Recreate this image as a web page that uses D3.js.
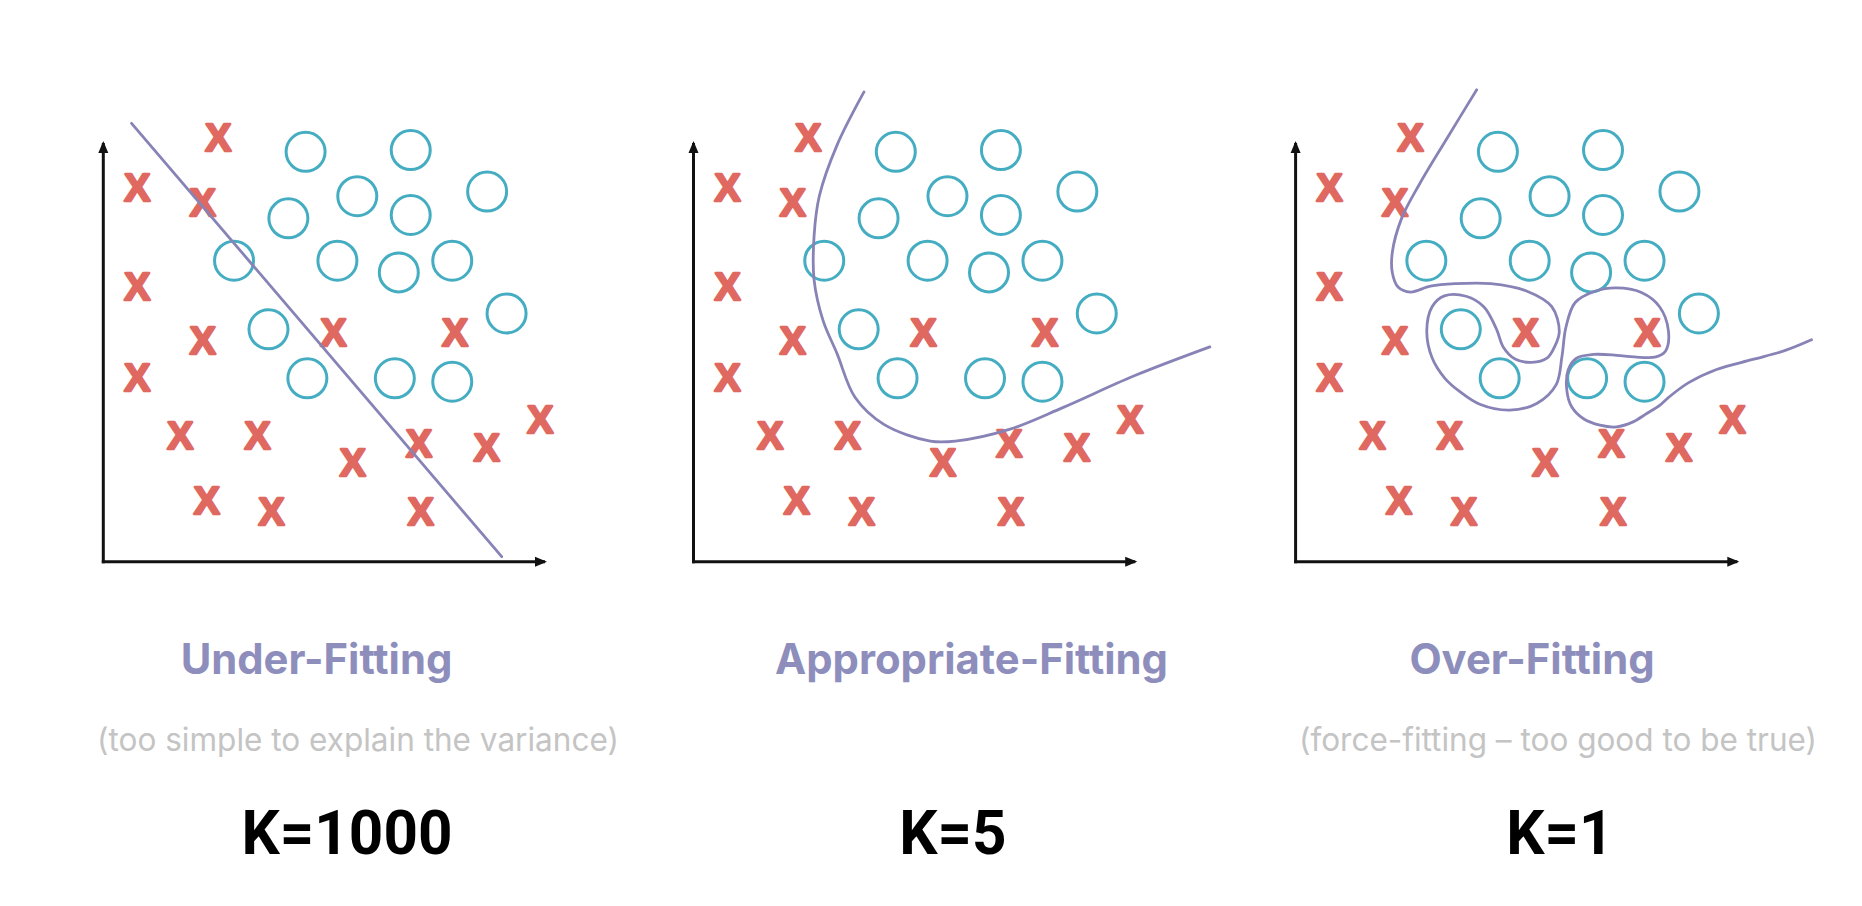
<!DOCTYPE html>
<html><head><meta charset="utf-8">
<script src="https://cdn.jsdelivr.net/npm/d3@7"></script>
<style>html,body{margin:0;padding:0;background:#fff;} svg{display:block;}</style>
</head><body>
<svg id="chart" width="1862" height="906"></svg>
<script>
// ---------- data (shared coordinate system 0..100 on both axes) ----------
const crossX = [26.0, 7.7, 22.5, 7.7, 22.5, 52.1, 79.6, 7.7, 17.4, 34.9, 56.5, 71.5, 86.8, 98.9, 23.4, 38.1, 71.9];
const crossY = [101.5, 89.4, 86.0, 65.8, 53.0, 54.9, 54.9, 44.2, 30.3, 30.3, 23.9, 28.3, 27.5, 34.0, 14.7, 12.2, 12.2];
const circleX = [45.8, 69.6, 57.5, 86.9, 41.9, 69.6, 29.6, 53.0, 66.9, 79.0, 91.3, 37.4, 46.2, 66.0, 79.0];
const circleY = [97.9, 98.3, 87.3, 88.4, 82.0, 82.8, 71.9, 71.9, 69.1, 71.9, 59.3, 55.5, 43.8, 43.8, 43.0];

const underFitX = [6.4, 90.2];
const underFitY = [104.7, 1.2];
const appropriateX = [38.6, 32.5, 28.5, 27.3, 27.3, 29.3, 32.5, 36.6, 43.1, 53.6, 59.3, 71.5, 83.6, 99.8, 116.9];
const appropriateY = [112.2, 99.5, 87.4, 77.8, 67.3, 57.7, 49.7, 39.2, 32.8, 28.8, 28.8, 31.6, 36.8, 44.4, 51.3];
const overFitX = [41.0, 34.5, 28.0, 24.0, 21.9, 21.9, 23.2, 26.0, 30.5, 36.1, 44.2, 52.4, 58.0, 59.7, 58.7, 56.9, 53.5, 49.7, 47.0, 45.5, 42.6, 38.6, 33.7, 30.9, 29.7, 30.9, 33.8, 37.2, 41.7, 48.5, 54.6, 59.0, 60.3, 61.2, 63.3, 67.8, 72.6, 78.3, 82.4, 84.4, 83.8, 81.6, 76.7, 72.7, 67.4, 63.6, 61.7, 61.4, 62.5, 65.1, 68.9, 72.7, 76.4, 79.5, 82.5, 84.4, 88.9, 95.3, 103.5, 110.7, 116.8];
const overFitY = [112.7, 101.5, 90.1, 82.0, 73.9, 69.0, 65.6, 64.4, 65.8, 66.4, 66.4, 64.6, 60.9, 55.0, 51.5, 48.6, 47.6, 48.4, 51.3, 55.5, 60.9, 63.4, 63.5, 60.9, 55.2, 48.7, 43.8, 40.6, 37.6, 36.2, 37.8, 42.3, 49.0, 56.0, 61.9, 64.6, 65.4, 64.3, 60.9, 55.2, 50.4, 48.9, 48.9, 49.3, 49.5, 48.6, 45.8, 41.0, 37.0, 34.2, 32.6, 32.2, 33.4, 35.4, 37.4, 39.2, 42.7, 45.9, 48.3, 50.4, 53.0];

const titles = ["Under-Fitting", "Appropriate-Fitting", "Over-Fitting"];
const subtitles = ["(too simple to explain the variance)", "", "(force-fitting \u2013 too good to be true)"];
const kLabels = ["K=1000", "K=5", "K=1"];

// ---------- layout ----------
const panelLeft = [103.3, 693.5, 1295.6];
const panelWidth = 441.7;
const yBottom = 561.7, yTop = 143;
const titleCX = [316.5, 971.5, 1532], titleY = 674;
const subCX = [358, 0, 1558], subY = 751;
const kCX = [347, 953, 1560], kY = 854;

const boundaries = [
  {xs: underFitX, ys: underFitY, curve: d3.curveLinear},
  {xs: appropriateX, ys: appropriateY, curve: d3.curveCatmullRom.alpha(0.5)},
  {xs: overFitX, ys: overFitY, curve: d3.curveCatmullRom.alpha(0.5)}
];

const svg = d3.select("#chart");
const defs = svg.append("defs");
defs.append("marker").attr("id", "arrow")
  .attr("viewBox", "0 -6 12 12").attr("markerUnits", "userSpaceOnUse")
  .attr("markerWidth", 12).attr("markerHeight", 12)
  .attr("refX", 10).attr("refY", 0).attr("orient", "auto")
  .append("path").attr("d", "M0,-5L12,0L0,5Z").attr("fill", "#111");

const crosses = crossX.map((x, i) => ({x, y: crossY[i]}));
const circles = circleX.map((x, i) => ({x, y: circleY[i]}));

panelLeft.forEach((left, p) => {
  const x = d3.scaleLinear().domain([0, 100]).range([left, left + panelWidth]);
  const y = d3.scaleLinear().domain([0, 100]).range([yBottom, yTop]);
  const g = svg.append("g");

  // axes
  g.append("line").attr("x1", x(0) - 1.5).attr("y1", y(0)).attr("x2", x(100)).attr("y2", y(0))
    .attr("stroke", "#111").attr("stroke-width", 3).attr("marker-end", "url(#arrow)");
  g.append("line").attr("x1", x(0)).attr("y1", y(0) + 1.5).attr("x2", x(0)).attr("y2", y(100))
    .attr("stroke", "#111").attr("stroke-width", 3).attr("marker-end", "url(#arrow)");

  // circles
  g.selectAll("circle.o").data(circles).join("circle").attr("class", "o")
    .attr("cx", d => x(d.x)).attr("cy", d => y(d.y)).attr("r", 19.5)
    .attr("fill", "none").attr("stroke", "#45adc2").attr("stroke-width", 3);

  // crosses
  g.selectAll("text.x").data(crosses).join("text").attr("class", "x")
    .attr("x", d => x(d.x)).attr("y", d => y(d.y)).attr("dy", "0.36em")
    .attr("text-anchor", "middle")
    .style("font-family", "'Liberation Sans', Arial, sans-serif").style("font-weight", 700)
    .style("font-size", "39px").attr("fill", "#df6861")
    .attr("stroke", "#df6861").attr("stroke-width", 2.4).attr("stroke-linejoin", "round")
    .text("X");

  // boundary
  const b = boundaries[p];
  const pts = b.xs.map((v, i) => [v, b.ys[i]]);
  const line = d3.line().x(d => x(d[0])).y(d => y(d[1])).curve(b.curve);
  g.append("path").attr("d", line(pts)).attr("fill", "none")
    .attr("stroke", "#8783b6").attr("stroke-width", 2.8).attr("stroke-linecap", "round");
});

function fitSize(sel, refIndex, targetWidth) {
  sel.style("font-size", "100px");
  const w = sel.nodes()[refIndex].getComputedTextLength();
  sel.style("font-size", (100 * targetWidth / w) + "px");
}

const tSel = svg.selectAll("text.title").data(titles).join("text").attr("class", "title")
  .attr("x", (d, i) => titleCX[i]).attr("y", titleY).attr("text-anchor", "middle")
  .style("font-family", "Inter, 'Noto Sans', sans-serif").style("font-weight", 700)
  .attr("fill", "#8e8ebd").text(d => d);
fitSize(tSel, 1, 393);

const sSel = svg.selectAll("text.sub").data(subtitles).join("text").attr("class", "sub")
  .attr("x", (d, i) => subCX[i]).attr("y", subY).attr("text-anchor", "middle")
  .style("font-family", "Inter, 'Noto Sans', sans-serif").style("font-weight", 400)
  .attr("fill", "#c4c4c4").text(d => d);
fitSize(sSel, 0, 522);

const kSel = svg.selectAll("text.k").data(kLabels).join("text").attr("class", "k")
  .attr("x", (d, i) => kCX[i]).attr("y", kY).attr("text-anchor", "middle")
  .style("font-family", "Roboto, 'Liberation Sans', sans-serif").style("font-weight", 700)
  .attr("fill", "#000").text(d => d);
fitSize(kSel, 0, 211);
</script>
</body></html>
